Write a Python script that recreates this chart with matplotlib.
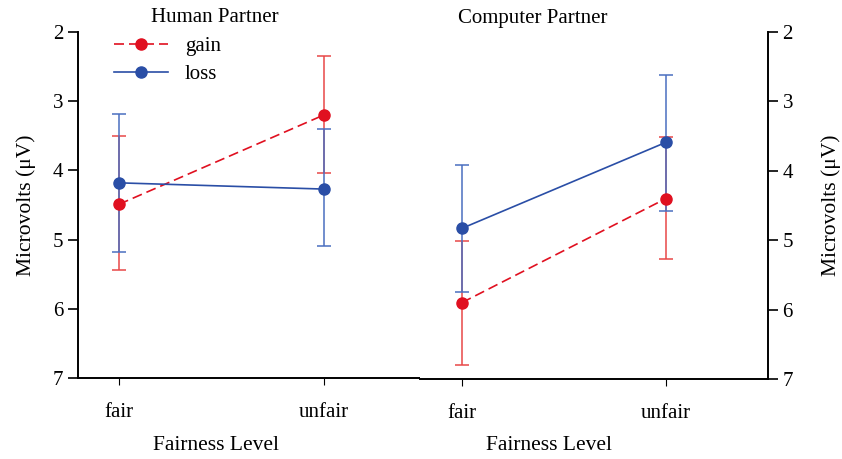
import numpy as np
import matplotlib
matplotlib.use('Agg')
import matplotlib.pyplot as plt

plt.rcParams['font.family'] = ['Liberation Serif', 'DejaVu Serif']

conditions = ['fair', 'unfair']
panels = ['Human Partner', 'Computer Partner']

# mean amplitude and error-bar ends (microvolts), per panel: [fair, unfair]
gain_mean = [[4.49, 3.20], [5.90, 4.40]]
gain_low = [[3.50, 2.35], [5.01, 3.52]]
gain_high = [[5.44, 4.04], [6.80, 5.27]]
loss_mean = [[4.18, 4.27], [4.83, 3.59]]
loss_low = [[3.18, 3.40], [3.92, 2.62]]
loss_high = [[5.18, 5.09], [5.74, 4.58]]

red = '#e01020'
blue = '#2a4ea6'
red_err = '#e84848'
blue_err = '#4a6fc0'

fig = plt.figure(figsize=(8.42, 4.59), dpi=100)
axes = [fig.add_axes([0.0926, 0.1765, 0.4062, 0.7538]),
        fig.add_axes([0.4988, 0.1743, 0.4133, 0.7560])]

x = np.arange(len(conditions))
for i, ax in enumerate(axes):
    gm = np.array(gain_mean[i])
    lm = np.array(loss_mean[i])
    gerr = [gm - np.array(gain_low[i]), np.array(gain_high[i]) - gm]
    lerr = [lm - np.array(loss_low[i]), np.array(loss_high[i]) - lm]
    ax.errorbar(x, gm, yerr=gerr, fmt='none', ecolor=red_err, elinewidth=1.1,
                capsize=5, capthick=1.1)
    ax.errorbar(x, lm, yerr=lerr, fmt='none', ecolor=blue_err, elinewidth=1.1,
                capsize=5, capthick=1.1)
    ax.plot(x, gm, color=red, ls=(0, (6, 3)), lw=1.2, marker='o', ms=8,
            label='gain', zorder=3)
    ax.plot(x, lm, color=blue, ls='-', lw=1.2, marker='o', ms=8,
            label='loss', zorder=3)

    ax.set_ylim(7, 2)
    ax.set_yticks([2, 3, 4, 5, 6, 7])
    ax.set_xticks(x)
    ax.set_xticklabels(conditions, fontsize=15)
    ax.tick_params(axis='y', labelsize=15, length=7, width=1.2, direction='out')
    ax.tick_params(axis='x', length=5, width=0.8, pad=13)
    ax.spines['top'].set_visible(False)
    for s in ax.spines.values():
        s.set_linewidth(1.4)

axes[0].set_xlim(-0.2, 1.47)
axes[0].spines['right'].set_visible(False)
axes[0].set_ylabel('Microvolts (\u03bcV)', fontsize=15.5, labelpad=12)
axes[1].set_xlim(-0.205, 1.5)
axes[1].spines['left'].set_visible(False)
axes[1].yaxis.tick_right()
axes[1].yaxis.set_label_position('right')
axes[1].set_ylabel('Microvolts (\u03bcV)', fontsize=15.5, labelpad=20, rotation=90)

fig.text(215 / 842, 1 - 18 / 459, panels[0], fontsize=15, ha='center', va='center')
fig.text(533 / 842, 1 - 18 / 459, panels[1], fontsize=15, ha='center', va='center')
fig.text(216 / 842, 1 - 446 / 459, 'Fairness Level', fontsize=15.5, ha='center', va='center')
fig.text(549 / 842, 1 - 446 / 459, 'Fairness Level', fontsize=15.5, ha='center', va='center')

axes[0].legend(loc='upper left', bbox_to_anchor=(0.05, 1.04), frameon=False,
               fontsize=15, handlelength=2.6, handletextpad=0.8, labelspacing=0.4)

fig.savefig('out.png', dpi=100)
